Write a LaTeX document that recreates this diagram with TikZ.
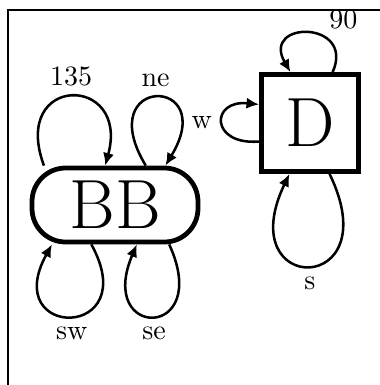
\documentclass[tikz,border=0pt]{standalone}
\usetikzlibrary{arrows.meta}
\newcommand\pxu{0.357pt}
\begin{document}
\begin{tikzpicture}[x=0.357pt,y=-0.357pt,
  loopline/.style={line width=0.9pt,-{Latex[length=4.5pt,width=4pt]}},
  statebox/.style={draw,line width=1.7pt,font=\Huge,inner sep=0pt},
  lbl/.style={font=\normalsize}]
\useasboundingbox (0,0) rectangle (380,385);
\clip (0,0) rectangle (380,385);
\draw[line width=1pt] (8,400) -- (8,10) -- (400,10);
\node[statebox,rounded corners=12pt,minimum width=166*\pxu,minimum height=74*\pxu] (BB) at (115,205) {BB};
\node[statebox,minimum size=97*\pxu] (D) at (310,123) {D};
% BB loops
\draw[loopline] (BB.151) .. controls +(-34,-92) and +(25,-92) .. node[lbl,pos=0.5,above] {135} (BB.104);
\draw[loopline] (BB.52.7) .. controls +(-55,-91) and +(55,-91) .. node[lbl,pos=0.5,above] {ne} (BB.38.2);
\draw[loopline] (BB.239.7) .. controls +(53,96) and +(-53,96) .. node[lbl,pos=0.5,below] {sw} (BB.212.4);
\draw[loopline] (BB.324.9) .. controls +(44,96) and +(-41,96) .. node[lbl,pos=0.5,below] {se} (BB.299.2);
% D loops
\draw[loopline] (D.66.6) .. controls +(23,-52) and +(-30,-52) .. node[lbl,pos=0.3,anchor=south west,inner sep=0pt,yshift=9*\pxu] {90} (D.111.5);
\draw[loopline] (D.200.5) .. controls +(-49,4) and +(-49,-5) .. node[lbl,pos=0.5,left] {w} (D.160.5);
\draw[loopline] (D.291.5) .. controls +(60,123) and +(-59,123) .. node[lbl,pos=0.5,below] {s} (D.248.5);
\end{tikzpicture}
\end{document}
